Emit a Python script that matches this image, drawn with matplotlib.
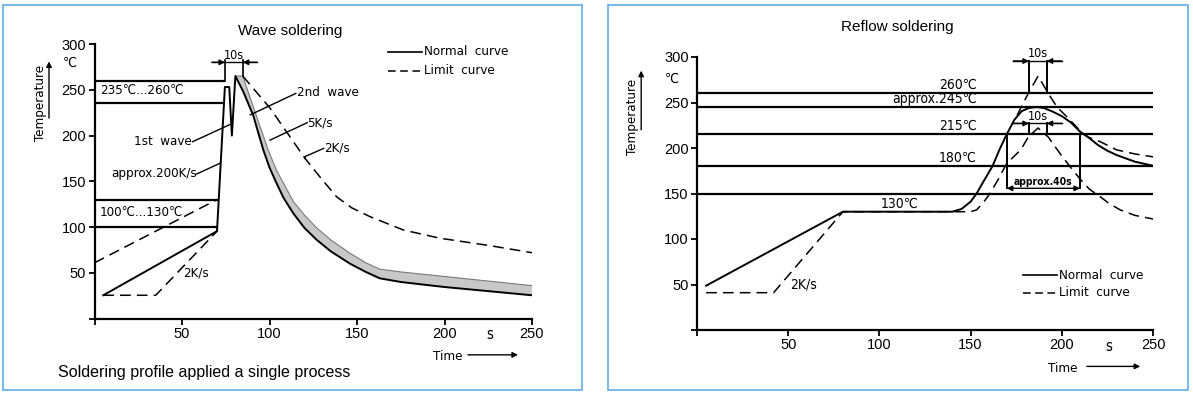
import numpy as np
import matplotlib.pyplot as plt
from matplotlib.patches import Rectangle

plt.rcParams['font.family'] = ['DejaVu Sans']
plt.rcParams['font.stretch'] = 'condensed'

W, H = 1193, 396
SANS = 'Liberation Sans'
BORDER = '#6ab4ea'
DASH = (0, (7, 4))
FS = 9.5

time_ticks = [0, 50, 100, 150, 200, 250]
temp_ticks = [0, 50, 100, 150, 200, 250, 300]

# ---- wave soldering ----
wave_levels = [260, 235, 130, 100]
wave_level_end = [74.6, 73.5, 70.7, 70]

wave_normal_x = [5, 70, 74.5, 77, 78.5, 80.5, 85, 90.7, 96.5, 100, 104, 108, 113.6, 120, 127,
                 135, 146, 155, 163, 175, 200, 225, 250]
wave_normal_y = [25.5, 95.5, 253, 253, 200, 265, 248, 222, 184, 165, 148, 132, 115, 99, 86,
                 73.5, 60, 51, 44, 40, 34.5, 30, 25.5]

wave_band_x = [80.5, 84.7, 91.7, 99.3, 104, 109.4, 113.6, 120, 127, 135, 146, 155, 163, 175,
               200, 225, 250]
wave_band_y = [265, 265, 226, 184, 162, 143, 128, 113, 99, 86, 71.4, 61, 54, 51, 46, 41, 36]

wave_lim_hi_x = [0, 70]
wave_lim_hi_y = [61, 130]
wave_lim_lo_x = [5, 35, 70]
wave_lim_lo_y = [25.5, 25.5, 95.5]
wave_lim_fall_x = [84.7, 100.3, 120.3, 130, 138.4, 147, 157.4, 176.5, 197.4, 225, 250]
wave_lim_fall_y = [265, 230, 175, 152, 133, 121, 111.4, 96.8, 87.8, 80, 72]

# ---- reflow soldering ----
reflow_levels = [260, 245, 215, 180, 150]
reflow_labels = ['260℃', 'approx.245℃', '215℃', '180℃']

reflow_normal_x = [5, 80, 140, 145, 150, 153.3, 157, 162, 166, 169.8, 174, 178, 182, 186, 190,
                   195, 200, 205, 210, 215, 220, 225, 230, 240, 250]
reflow_normal_y = [48.7, 130, 130, 133, 141, 150, 163, 180, 199, 215, 231, 240.5, 244, 245, 244,
                   240, 235, 228, 218, 211, 203, 197, 192.3, 185, 180.5]

reflow_lim_lo_x = [5, 42, 80, 150, 153.3, 157, 160.6, 165, 169.8, 177.5, 181.6, 187, 192.6, 199,
                   204.5, 210, 215, 221, 226, 232, 240, 250]
reflow_lim_lo_y = [41, 41, 130, 130, 132, 140, 150, 165, 183, 198, 212, 222, 212, 194,
                   179.5, 166, 155, 146.5, 139, 132, 126, 122]

reflow_lim_hi_x = [175.5, 181.6, 187, 192.6, 197.2, 204.5, 210.9, 215, 221, 230, 240, 250]
reflow_lim_hi_y = [236, 260, 279, 260, 245.4, 230.8, 217, 211.5, 207, 198, 193.5, 190.3]

peak_window = [182, 191.7]     # 10s
above_215 = [169.8, 210]       # approx. 40s


fig = plt.figure(figsize=(W / 100, H / 100), dpi=100)

for x0, x1 in [(2.5, 581.7), (608.3, 1188.3)]:
    fig.add_artist(Rectangle((x0 / W, 1 - 389.5 / H), (x1 - x0) / W, 384.5 / H,
                             transform=fig.transFigure, fill=False, ec=BORDER, lw=1.3))

ax1 = fig.add_axes([94.5 / W, 1 - 318.6 / H, 437.5 / W, 274.6 / H])
ax2 = fig.add_axes([697 / W, 1 - 330 / H, 456 / W, 273 / H])


def setup(ax):
    ax.set_xlim(0, 250)
    ax.set_ylim(0, 300)
    for s in ['top', 'right']:
        ax.spines[s].set_visible(False)
    for s in ['left', 'bottom']:
        ax.spines[s].set_linewidth(1.6)
    ax.set_xticks(time_ticks)
    ax.set_xticklabels([''] + [str(t) for t in time_ticks[1:]])
    ax.set_yticks(temp_ticks)
    ax.set_yticklabels([''] + [str(t) for t in temp_ticks[1:]])
    ax.tick_params(direction='out', length=4, width=1.3, labelsize=10.5, pad=2)
    for lab in ax.get_xticklabels() + ax.get_yticklabels():
        lab.set_family(SANS)
        lab.set_stretch('normal')
    ax.patch.set_alpha(0)


def arrow(ax, x0, y0, x1, y1, style='-|>'):
    ax.annotate('', xy=(x1, y1), xytext=(x0, y0), annotation_clip=False,
                arrowprops=dict(arrowstyle=style, color='k', lw=1, mutation_scale=8,
                                shrinkA=0, shrinkB=0))


def axis_labels(ax, tx, ty, ay0, ay1, cx, cy, sx, sy, timex, timey, ax0, ax1_):
    ax.text(tx, ty, 'Temperature', rotation=90, ha='center', va='center', fontsize=FS,
            clip_on=False)
    arrow(ax, tx + 5, ay0, tx + 5, ay1)
    ax.text(cx, cy, '℃', ha='center', va='center', fontsize=10, clip_on=False)
    ax.text(sx, sy, 's', ha='center', va='center', fontsize=10.5, clip_on=False)
    ax.text(timex, timey, 'Time', ha='left', va='center', fontsize=FS, clip_on=False)
    arrow(ax, ax0, timey + 2, ax1_, timey + 2)


# ---------------- left: wave soldering ----------------
setup(ax1)
for lev, xe in zip(wave_levels, wave_level_end):
    ax1.plot([0, xe], [lev, lev], color='k', lw=1.6, solid_capstyle='butt')

wnx = np.array(wave_normal_x)
wny = np.array(wave_normal_y)
keep = wnx >= wave_band_x[0]
ax1.fill(np.concatenate([wave_band_x, wnx[keep][::-1]]),
         np.concatenate([wave_band_y, wny[keep][::-1]]), color='#c8c8c8', lw=0)
ax1.plot(wave_band_x, wave_band_y, color='#7a7a7a', lw=0.8)
ax1.plot(wnx, wny, color='k', lw=1.4)

ax1.plot(wave_lim_hi_x, wave_lim_hi_y, color='k', lw=1.1, ls=DASH)
ax1.plot(wave_lim_lo_x, wave_lim_lo_y, color='k', lw=1.1, ls=DASH)
ax1.plot(wave_lim_fall_x, wave_lim_fall_y, color='k', lw=1.1, ls=DASH)

# 10s marker
ax1.plot([74.6, 74.6], [260, 283], color='k', lw=1.2)
ax1.plot([84.7, 84.7], [265, 283], color='k', lw=1.2)
ax1.plot([67, 92.7], [280, 280], color='k', lw=1, clip_on=False)
arrow(ax1, 67, 280, 74.6, 280)
arrow(ax1, 92.7, 280, 84.7, 280)
ax1.text(79.6, 280.5, '10s', ha='center', va='bottom', fontsize=9, clip_on=False)

ax1.text(3, 249, '235℃...260℃', ha='left', va='center', fontsize=FS)
ax1.text(3, 116, '100℃...130℃', ha='left', va='center', fontsize=FS)
ax1.text(55.5, 193, '1st  wave', ha='right', va='center', fontsize=FS)
ax1.plot([56.1, 78.2], [193.3, 212.7], color='k', lw=1)
ax1.text(58.4, 158, 'approx.200K/s', ha='right', va='center', fontsize=FS)
ax1.plot([58.4, 71.7], [158, 169.7], color='k', lw=1)
ax1.text(50.6, 49.5, '2K/s', ha='left', va='center', fontsize=FS)
ax1.text(115.5, 247, '2nd  wave', ha='left', va='center', fontsize=FS)
ax1.plot([89, 115], [222.6, 246], color='k', lw=1)
ax1.text(121.3, 214, '5K/s', ha='left', va='center', fontsize=FS)
ax1.plot([100.3, 121.5], [195, 214], color='k', lw=1)
ax1.text(131, 186, '2K/s', ha='left', va='center', fontsize=FS)
ax1.plot([120.3, 120.3, 131], [175, 177, 186], color='k', lw=1)

# legend
ax1.plot([167.7, 187], [291.7, 291.7], color='k', lw=1.2, clip_on=False)
ax1.text(188.3, 291.7, 'Normal  curve', ha='left', va='center', fontsize=FS, clip_on=False)
ax1.plot([167.7, 187], [270.6, 270.6], color='k', lw=1.1, ls=(0, (5, 3)), clip_on=False)
ax1.text(188.3, 270.6, 'Limit  curve', ha='left', va='center', fontsize=FS, clip_on=False)

axis_labels(ax1, -31, 236, 219, 281, -14, 279, 226, -17.2, 193.4, -41.6, 213.4, 242)

fig.text(290 / W, 1 - 30.7 / H, 'Wave soldering', ha='center', va='center', fontsize=11,
         family=SANS, stretch='normal')
fig.text(58 / W, 1 - 372 / H, 'Soldering profile applied a single process', ha='left',
         va='center', fontsize=11.5, family=SANS, stretch='normal')

# ---------------- right: reflow soldering ----------------
setup(ax2)
for lev in reflow_levels:
    ax2.plot([0, 250], [lev, lev], color='k', lw=1.6, solid_capstyle='butt')

ax2.plot(reflow_normal_x, reflow_normal_y, color='k', lw=1.4)
ax2.plot(reflow_lim_lo_x, reflow_lim_lo_y, color='k', lw=1.1, ls=DASH)
ax2.plot(reflow_lim_hi_x, reflow_lim_hi_y, color='k', lw=1.1, ls=DASH)

for lab, lev in zip(reflow_labels, reflow_levels):
    ax2.text(153.3, lev + 1.5, lab, ha='right', va='bottom', fontsize=10)
ax2.text(111, 131, '130℃', ha='center', va='bottom', fontsize=10)
ax2.text(51, 49.5, '2K/s', ha='left', va='center', fontsize=10)

# upper 10s
for xv in peak_window:
    ax2.plot([xv, xv], [260, 296], color='k', lw=1.4)
ax2.plot([173.4, 200], [295.6, 295.6], color='k', lw=1, clip_on=False)
arrow(ax2, 173.4, 295.6, peak_window[0], 295.6)
arrow(ax2, 200, 295.6, peak_window[1], 295.6)
ax2.text(sum(peak_window) / 2, 296.2, '10s', ha='center', va='bottom', fontsize=9,
         clip_on=False)
# lower 10s
for xv in peak_window:
    ax2.plot([xv, xv], [215, 227], color='k', lw=1.4)
ax2.plot([173.4, 200], [227, 227], color='k', lw=1)
arrow(ax2, 173.4, 227, peak_window[0], 227)
arrow(ax2, 200, 227, peak_window[1], 227)
ax2.text(sum(peak_window) / 2, 227.6, '10s', ha='center', va='bottom', fontsize=9)
# approx 40s
for xv in above_215:
    ax2.plot([xv, xv], [215, 155.7], color='k', lw=1.4)
arrow(ax2, 190, 155.7, above_215[0], 155.7)
arrow(ax2, 190, 155.7, above_215[1], 155.7)
ax2.text(sum(above_215) / 2, 163, 'approx.40s', ha='center', va='center', fontsize=7.5,
         fontweight='bold')

# legend
ax2.plot([178.6, 197.2], [60, 60], color='k', lw=1.2)
ax2.text(198.5, 60, 'Normal  curve', ha='left', va='center', fontsize=FS)
ax2.plot([178.6, 197.2], [40.7, 40.7], color='k', lw=1.1, ls=(0, (5, 3)))
ax2.text(198.5, 40.7, 'Limit  curve', ha='left', va='center', fontsize=FS)

axis_labels(ax2, -35.6, 234, 220, 285, -13.9, 275.8, 225.9, -18.3, 192.6, -42, 213.7, 243)

fig.text(897 / W, 1 - 27 / H, 'Reflow soldering', ha='center', va='center', fontsize=11,
         family=SANS, stretch='normal')

fig.savefig('out.png', dpi=100)
